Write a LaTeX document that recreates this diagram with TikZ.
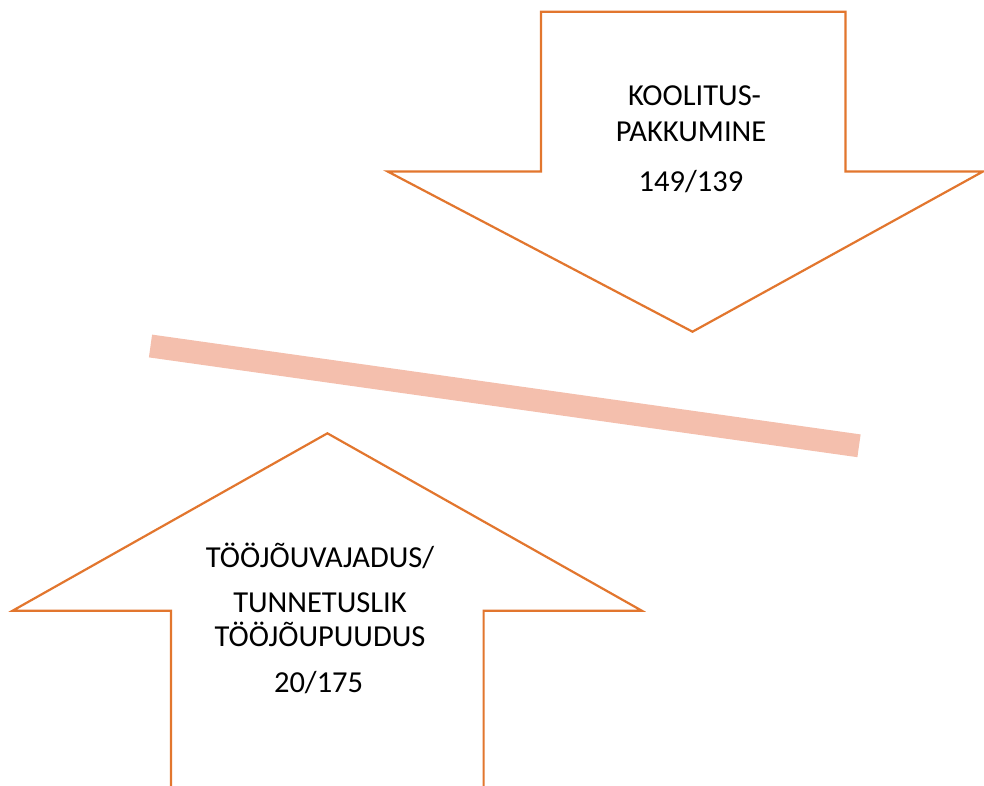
\documentclass[tikz,border=0pt]{standalone}
\usepackage{fontspec}
\setmainfont{Carlito}
\definecolor{arroworange}{HTML}{E2762E}
\definecolor{barpink}{HTML}{F4BFAD}
\tikzset{
  arrowshape/.style={draw=arroworange, line width=2.2pt, line join=miter, fill=white},
  lbl/.style={font=\fontsize{30.5}{36}\selectfont, text=black, inner sep=0pt, anchor=center},
  bar/.style={draw=barpink, line width=23pt, line cap=butt}
}
\begin{document}
\begin{tikzpicture}[x=1pt,y=-1pt]
\useasboundingbox (0,0) rectangle (984,786);
% top arrow (down)
\draw[arrowshape] (541,11.7) -- (845.5,11.7) -- (845.5,171.5) -- (983,171.5) -- (692.5,331.7) -- (387.7,171.5) -- (541,171.5) -- cycle;
% bottom arrow (up)
\draw[arrowshape] (170.9,790) -- (170.9,610.7) -- (12.6,610.7) -- (327.4,433.3) -- (641.8,610.7) -- (483.6,610.7) -- (483.6,790);
% pink bar
\coordinate (barA) at (150.5,346);
\coordinate (barB) at (859,445.8);
\draw[bar] (barA) -- (barB);
% texts
\node[lbl] (t1) at (694.5,96) {KOOLITUS-};
\node[lbl] (t2) at (691,131.5) {PAKKUMINE};
\node[lbl] (t3) at (691,182) {149/139};
\node[lbl] (b1) at (320,555.5) {TÖÖJÕUVAJADUS/};
\node[lbl] (b2) at (320,603) {TUNNETUSLIK};
\node[lbl] (b3) at (320,634.5) {TÖÖJÕUPUUDUS};
\node[lbl] (b4) at (318.6,683) {20/175};
\end{tikzpicture}
\end{document}
